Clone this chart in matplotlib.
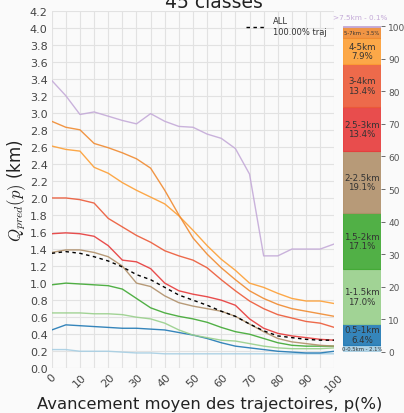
import matplotlib
matplotlib.use("Agg")
import matplotlib.pyplot as plt
import numpy as np
from matplotlib.ticker import MultipleLocator

plt.rcParams['font.family'] = ['DejaVu Sans']
plt.rcParams['mathtext.fontset'] = 'cm'

p = list(range(0, 101, 5))

classes = ["0-0.5km", "0.5-1km", "1-1.5km", "1.5-2km", "2-2.5km",
           "2.5-3km", "3-4km", "4-5km", "5-7km", ">7.5km"]
shares = [2.1, 6.4, 17.0, 17.1, 19.1, 13.4, 13.4, 7.9, 3.5, 0.1]
colors = ["#a6cee3", "#1f78b4", "#98cf8a", "#3fa832", "#b0906a",
          "#e73a3a", "#ec5a38", "#fd9f35", "#f08a30", "#c4aad8"]

q_0_05 = [0.22,0.22,0.20,0.20,0.20,0.19,0.18,0.18,0.17,0.17,0.17,0.17,0.17,0.17,0.17,0.17,0.17,0.17,0.17,0.17,0.17]
q_05_1 = [0.45,0.51,0.50,0.49,0.48,0.47,0.47,0.46,0.45,0.42,0.39,0.35,0.30,0.26,0.24,0.22,0.20,0.19,0.18,0.18,0.20]
q_1_15 = [0.65,0.65,0.65,0.64,0.64,0.63,0.60,0.58,0.53,0.45,0.39,0.36,0.33,0.32,0.29,0.26,0.24,0.23,0.23,0.23,0.24]
q_15_2 = [0.98,1.00,0.99,0.98,0.97,0.93,0.82,0.71,0.65,0.61,0.58,0.54,0.48,0.43,0.40,0.35,0.30,0.27,0.26,0.26,0.26]
q_2_25 = [1.36,1.39,1.39,1.36,1.31,1.20,1.00,0.96,0.85,0.77,0.73,0.70,0.67,0.61,0.52,0.43,0.35,0.31,0.29,0.27,0.26]
q_25_3 = [1.58,1.59,1.58,1.55,1.44,1.27,1.25,1.17,1.00,0.91,0.87,0.84,0.80,0.74,0.58,0.47,0.41,0.38,0.36,0.34,0.33]
q_3_4 = [2.00,2.00,1.98,1.94,1.76,1.66,1.56,1.48,1.38,1.32,1.27,1.18,1.04,0.91,0.79,0.70,0.63,0.59,0.55,0.53,0.48]
q_4_5 = [2.61,2.57,2.55,2.36,2.29,2.18,2.09,2.01,1.93,1.79,1.62,1.44,1.28,1.15,1.00,0.95,0.88,0.82,0.79,0.79,0.76]
q_5_7 = [2.90,2.83,2.80,2.64,2.59,2.53,2.46,2.35,2.09,1.80,1.53,1.34,1.18,1.04,0.91,0.82,0.75,0.70,0.67,0.64,0.61]
q_75 = [3.38,3.20,2.98,3.01,2.96,2.91,2.87,2.99,2.90,2.84,2.83,2.75,2.70,2.58,2.28,1.32,1.32,1.40,1.40,1.40,1.46]
q_all = [1.35,1.37,1.35,1.31,1.26,1.19,1.10,1.04,0.95,0.86,0.80,0.74,0.67,0.61,0.52,0.44,0.38,0.36,0.34,0.33,0.33]

series = [q_0_05, q_05_1, q_1_15, q_15_2, q_2_25, q_25_3, q_3_4, q_4_5, q_5_7, q_75]

bg = "#fafafa"
fig = plt.figure(figsize=(4.04, 4.14), dpi=100, facecolor=bg)
ax = fig.add_axes([0.128, 0.108, 0.6995, 0.864], facecolor=bg)

for s, c in zip(series, colors):
    ax.plot(p, s, color=c, lw=1.0, alpha=0.9)
ax.plot(p, q_all, color="black", lw=1.0, ls=(0, (2.5, 2.5)), label="ALL\n100.00% traj")

ax.set_xlim(0, 100)
ax.set_ylim(0, 4.2)
ax.xaxis.set_major_locator(MultipleLocator(10))
ax.xaxis.set_minor_locator(MultipleLocator(5))
ax.yaxis.set_major_locator(MultipleLocator(0.2))
ax.set_yticklabels([f"{v:.1f}" for v in ax.get_yticks()])
ax.grid(True, which="both", color="#e2e2e2", lw=0.8)
ax.set_axisbelow(True)
for sp in ax.spines.values():
    sp.set_visible(False)
ax.tick_params(axis="both", which="both", length=0, colors="#444444", labelsize=8)
ax.tick_params(axis="x", pad=2)
ax.tick_params(axis="y", pad=3)
for lbl in ax.get_xticklabels():
    lbl.set_rotation(45)
ax.set_ylabel(r"$Q_{pred}(p)$ (km)", fontsize=12, color="#222222", labelpad=1)

fig.text(0.519, 0.012, "Avancement moyen des trajectoires, p(%)", ha="center", va="baseline",
         fontsize=11.8, color="#222222")
fig.text(0.53, 0.98, "45 classes", ha="center", va="baseline", fontsize=13.5, color="#222222")

leg = ax.legend(loc="upper right", bbox_to_anchor=(1.0, 1.005), frameon=False, fontsize=6,
                handlelength=2.4, handletextpad=0.9, labelcolor="#333333")

# stacked share bar
ax2 = fig.add_axes([0.848, 0.148, 0.0955, 0.786], facecolor=bg)
cum = np.concatenate([[0], np.cumsum(shares)[:-1]])
for name, sh, b, c in zip(classes, shares, cum, colors):
    ax2.bar(0, sh, bottom=b, width=1.0, color=c, alpha=0.9, edgecolor=c, lw=0.8)
    if sh >= 5:
        ax2.text(0, b + sh / 2, f"{name}\n{sh:.1f}%", ha="center", va="center",
                 fontsize=6.2, color="#333333", linespacing=1.05)
    elif sh >= 1:
        ax2.text(0, b + sh / 2, f"{name} - {sh:.1f}%", ha="center", va="center",
                 fontsize=3.8, color="#333333")
    else:
        ax2.text(-0.05, 103, f"{name} - {sh:.1f}%", ha="center", va="center",
                 fontsize=5.2, color=c, clip_on=False)
ax2.set_xlim(-0.5, 0.5)
ax2.set_ylim(0, 100)
ax2.set_xticks([])
ax2.yaxis.tick_right()
ax2.yaxis.set_major_locator(MultipleLocator(10))
ax2.tick_params(axis="y", length=3, width=0.6, colors="#555555", labelsize=6.5, pad=2)
for sp in ax2.spines.values():
    sp.set_visible(False)

fig.savefig("out.png", dpi=100, facecolor=bg)
